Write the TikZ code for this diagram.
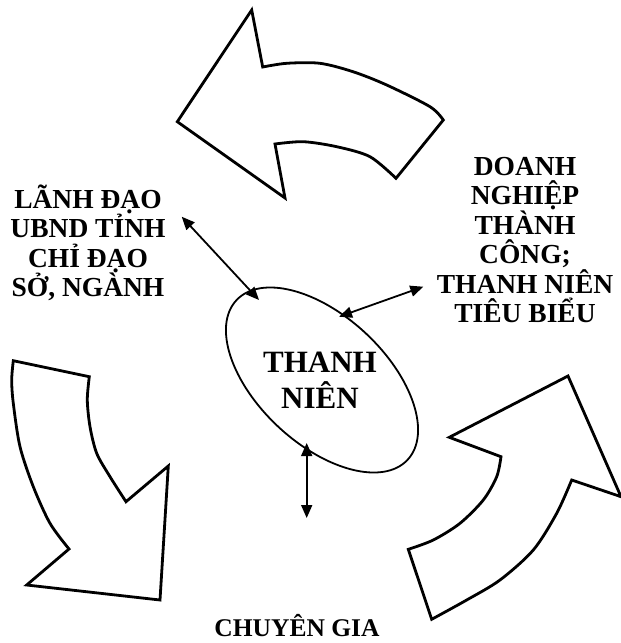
\documentclass[tikz,border=0pt]{standalone}
\usepackage{fontspec}
\setmainfont{Liberation Serif}
\usetikzlibrary{arrows.meta,shapes.geometric}
\begin{document}
\begin{tikzpicture}[x=1pt,y=-1pt,
  bigarrow/.style={draw=black,line width=2.8pt,line join=miter,fill=white},
  conn/.style={line width=1.8pt,{Triangle[length=13pt,width=11pt]}-{Triangle[length=13pt,width=11pt]}},
  lbl/.style={font=\bfseries\fontsize{27.5}{29.5}\selectfont,align=center,inner sep=0pt},
  ctr/.style={font=\bfseries\fontsize{31}{36}\selectfont,align=center,inner sep=0pt}]
\useasboundingbox (0,0) rectangle (621,643);

% top curved arrow (pointing left)
\draw[bigarrow] (251.7,10) -- (262.7,67)
  -- plot[smooth] coordinates {(262.7,67) (286.7,63.3) (320,63.3) (353,71.7) (386.7,85) (430,106.7) (443.3,120)}
  -- (396,178.3)
  -- plot[smooth] coordinates {(396,178.3) (370,156.7) (336.7,146.7) (303.3,141.7) (275,144)}
  -- (285,198) -- (177.3,121.7) -- cycle;

% left curved arrow (pointing down)
\draw[bigarrow] (13.3,360.7) -- (89.3,376.7)
  -- plot[smooth] coordinates {(89.3,376.7) (87.3,400) (90,426.7) (96.7,453.3) (110,476.7) (126,501.7)}
  -- (168.3,466) -- (160,600) -- (26.7,585) -- (69,549)
  -- plot[smooth] coordinates {(69,549) (50,523.3) (33.3,486.7) (20,446.7) (13.3,403.3) (11.7,380) (13.3,360.7)}
  -- cycle;

% right curved arrow (pointing up)
\draw[bigarrow] (408.3,549.3) -- (431.7,619.3)
  -- plot[smooth] coordinates {(431.7,619.3) (466.7,600) (500,580) (533.3,550) (556.7,513.3) (571.7,480)}
  -- (621,496.7) -- (568,376) -- (449.3,437.3) -- (501,456.7)
  -- plot[smooth] coordinates {(501,456.7) (496.7,476.7) (483.3,500) (460,523.3) (433.3,540) (408.3,549.3)}
  -- cycle;

% central ellipse
\node[draw,ellipse,line width=1.8pt,minimum width=234pt,minimum height=128pt,rotate=-43,inner sep=0pt] (ell) at (322,380) {};
\node[ctr] (tn) at (320,380) {THANH\\NIÊN};

% labels
\node[lbl] (lead) at (88,243) {LÃNH ĐẠO\\UBND TỈNH\\CHỈ ĐẠO\\SỞ, NGÀNH};
\node[lbl] (biz) at (525,240) {DOANH\\NGHIỆP\\THÀNH\\CÔNG;\\THANH NIÊN\\TIÊU BIỂU};
\node[lbl,font=\bfseries\fontsize{25.5}{28}\selectfont,anchor=base] (exp) at (297,636) {CHUYÊN GIA};

% connector end points
\coordinate (l1) at (181.7,216.7);
\coordinate (l2) at (259,300);
\coordinate (r1) at (423.3,286.7);
\coordinate (r2) at (339,316.7);
\coordinate (d1) at (306.7,443);
\coordinate (d2) at (306.7,518);

\draw[conn] (l1) -- (l2);
\draw[conn] (r2) -- (r1);
\draw[conn] (d1) -- (d2);
\end{tikzpicture}
\end{document}
